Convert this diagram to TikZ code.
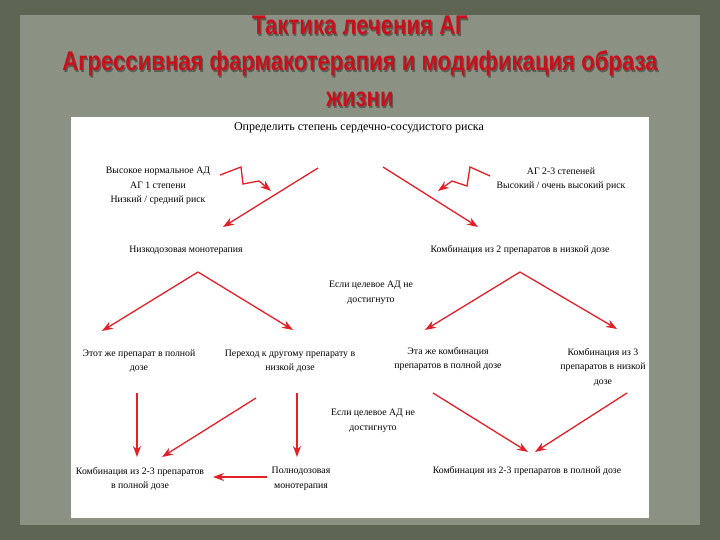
\documentclass[tikz,border=0pt]{standalone}
\usepackage{fontspec}
\setmainfont{Liberation Serif}
\newfontfamily\titlefont{Liberation Sans}
\usetikzlibrary{arrows.meta}
\definecolor{bgdark}{HTML}{5E6553}
\definecolor{bglight}{HTML}{8B9283}
\definecolor{titlered}{HTML}{C8101C}
\definecolor{arrowred}{HTML}{E32028}
\begin{document}
\begin{tikzpicture}[x=1pt,y=-1pt,
  lbl/.style={font=\fontsize{9.8}{14.5}\selectfont, align=center, inner sep=0pt, text=black},
  ttl/.style={font=\titlefont\bfseries\fontsize{27}{32}\selectfont, text=titlered, inner sep=0pt, anchor=base},
  ttlsh/.style={font=\titlefont\bfseries\fontsize{27}{32}\selectfont, text=black, opacity=0.35, inner sep=0pt, anchor=base},
  arr/.style={draw=arrowred, line width=1.3pt, line join=miter, -{Stealth[length=11pt,width=8pt]}}
]
\useasboundingbox (0,0) rectangle (720,540);
\fill[bgdark] (0,0) rectangle (720,540);
\fill[bglight] (20,15) rectangle (700,525);
\fill[white] (71,117) rectangle (649,518);

% title
\foreach \yy/\tt in {35/{Тактика лечения АГ},71/{Агрессивная фармакотерапия и модификация образа},107/{жизни}}{
  \node[ttlsh] at (361.2,\yy+1.5) {\scalebox{0.82}[1]{\tt}};
}
\node[ttl] (t1) at (360,35) {\scalebox{0.82}[1]{Тактика лечения АГ}};
\node[ttl] (t2) at (360,71) {\scalebox{0.82}[1]{Агрессивная фармакотерапия и модификация образа}};
\node[ttl] (t3) at (360,107) {\scalebox{0.82}[1]{жизни}};

% nodes
\node[lbl, font=\fontsize{12}{14}\selectfont] (risk) at (359,128) {Определить степень сердечно-сосудистого риска};
\node[lbl] (low) at (158,186) {Высокое нормальное АД\\АГ 1 степени\\Низкий / средний риск};
\node[lbl] (high) at (561,179) {АГ 2-3 степеней\\Высокий / очень высокий риск};
\node[lbl] (mono) at (186,250) {Низкодозовая монотерапия};
\node[lbl] (comb2) at (520,250) {Комбинация из 2 препаратов в низкой дозе};
\node[lbl] (if1) at (371,293) {Если целевое АД не\\достигнуто};
\node[lbl] (same) at (139,361) {Этот же препарат в полной\\дозе};
\node[lbl] (switch) at (290,361) {Переход к другому препарату в\\низкой дозе};
\node[lbl] (samecomb) at (448,359) {Эта же комбинация\\препаратов в полной дозе};
\node[lbl] (comb3) at (603,367) {Комбинация из 3\\препаратов в низкой\\дозе};
\node[lbl] (if2) at (373,421) {Если целевое АД не\\достигнуто};
\node[lbl] (fullL) at (140,479) {Комбинация из 2-3 препаратов\\в полной дозе};
\node[lbl] (fullmono) at (301,479) {Полнодозовая\\монотерапия};
\node[lbl] (fullR) at (527,471) {Комбинация из 2-3 препаратов в полной дозе};

% connector end points
\coordinate (zl1) at (220,175);
\coordinate (zl2) at (271,191);
\coordinate (dl1) at (318,168);
\coordinate (dl2) at (223,227);
\coordinate (dr1) at (383,167);
\coordinate (dr2) at (478,227);
\coordinate (zr1) at (490,176);
\coordinate (zr2) at (438,191);
\coordinate (ma) at (198,272);
\coordinate (mal) at (102,331);
\coordinate (mar) at (293,330);
\coordinate (ca) at (520,272);
\coordinate (cal) at (425,330);
\coordinate (car) at (617,329);
\coordinate (v1a) at (137,393);
\coordinate (v1b) at (137,457);
\coordinate (d1a) at (256,398);
\coordinate (d1b) at (162,457);
\coordinate (v2a) at (297,393);
\coordinate (v2b) at (297,457);
\coordinate (h1a) at (267,477);
\coordinate (h1b) at (213,477);
\coordinate (r1a) at (433,393);
\coordinate (r1b) at (528,452);
\coordinate (r2a) at (627,393);
\coordinate (r2b) at (535,452);

% connectors
\draw[arr] (zl1) -- (241,167) -- (243,184) -- (259,181) -- (zl2);
\draw[arr] (dl1) -- (dl2);
\draw[arr] (dr1) -- (dr2);
\draw[arr] (zr1) -- (470,167) -- (467,186) -- (452,181) -- (zr2);
\draw[arr] (ma) -- (mal);
\draw[arr] (ma) -- (mar);
\draw[arr] (ca) -- (cal);
\draw[arr] (ca) -- (car);
\draw[arr] (v1a) -- (v1b);
\draw[arr] (d1a) -- (d1b);
\draw[arr] (v2a) -- (v2b);
\draw[arr] (h1a) -- (h1b);
\draw[arr] (r1a) -- (r1b);
\draw[arr] (r2a) -- (r2b);
\end{tikzpicture}
\end{document}
